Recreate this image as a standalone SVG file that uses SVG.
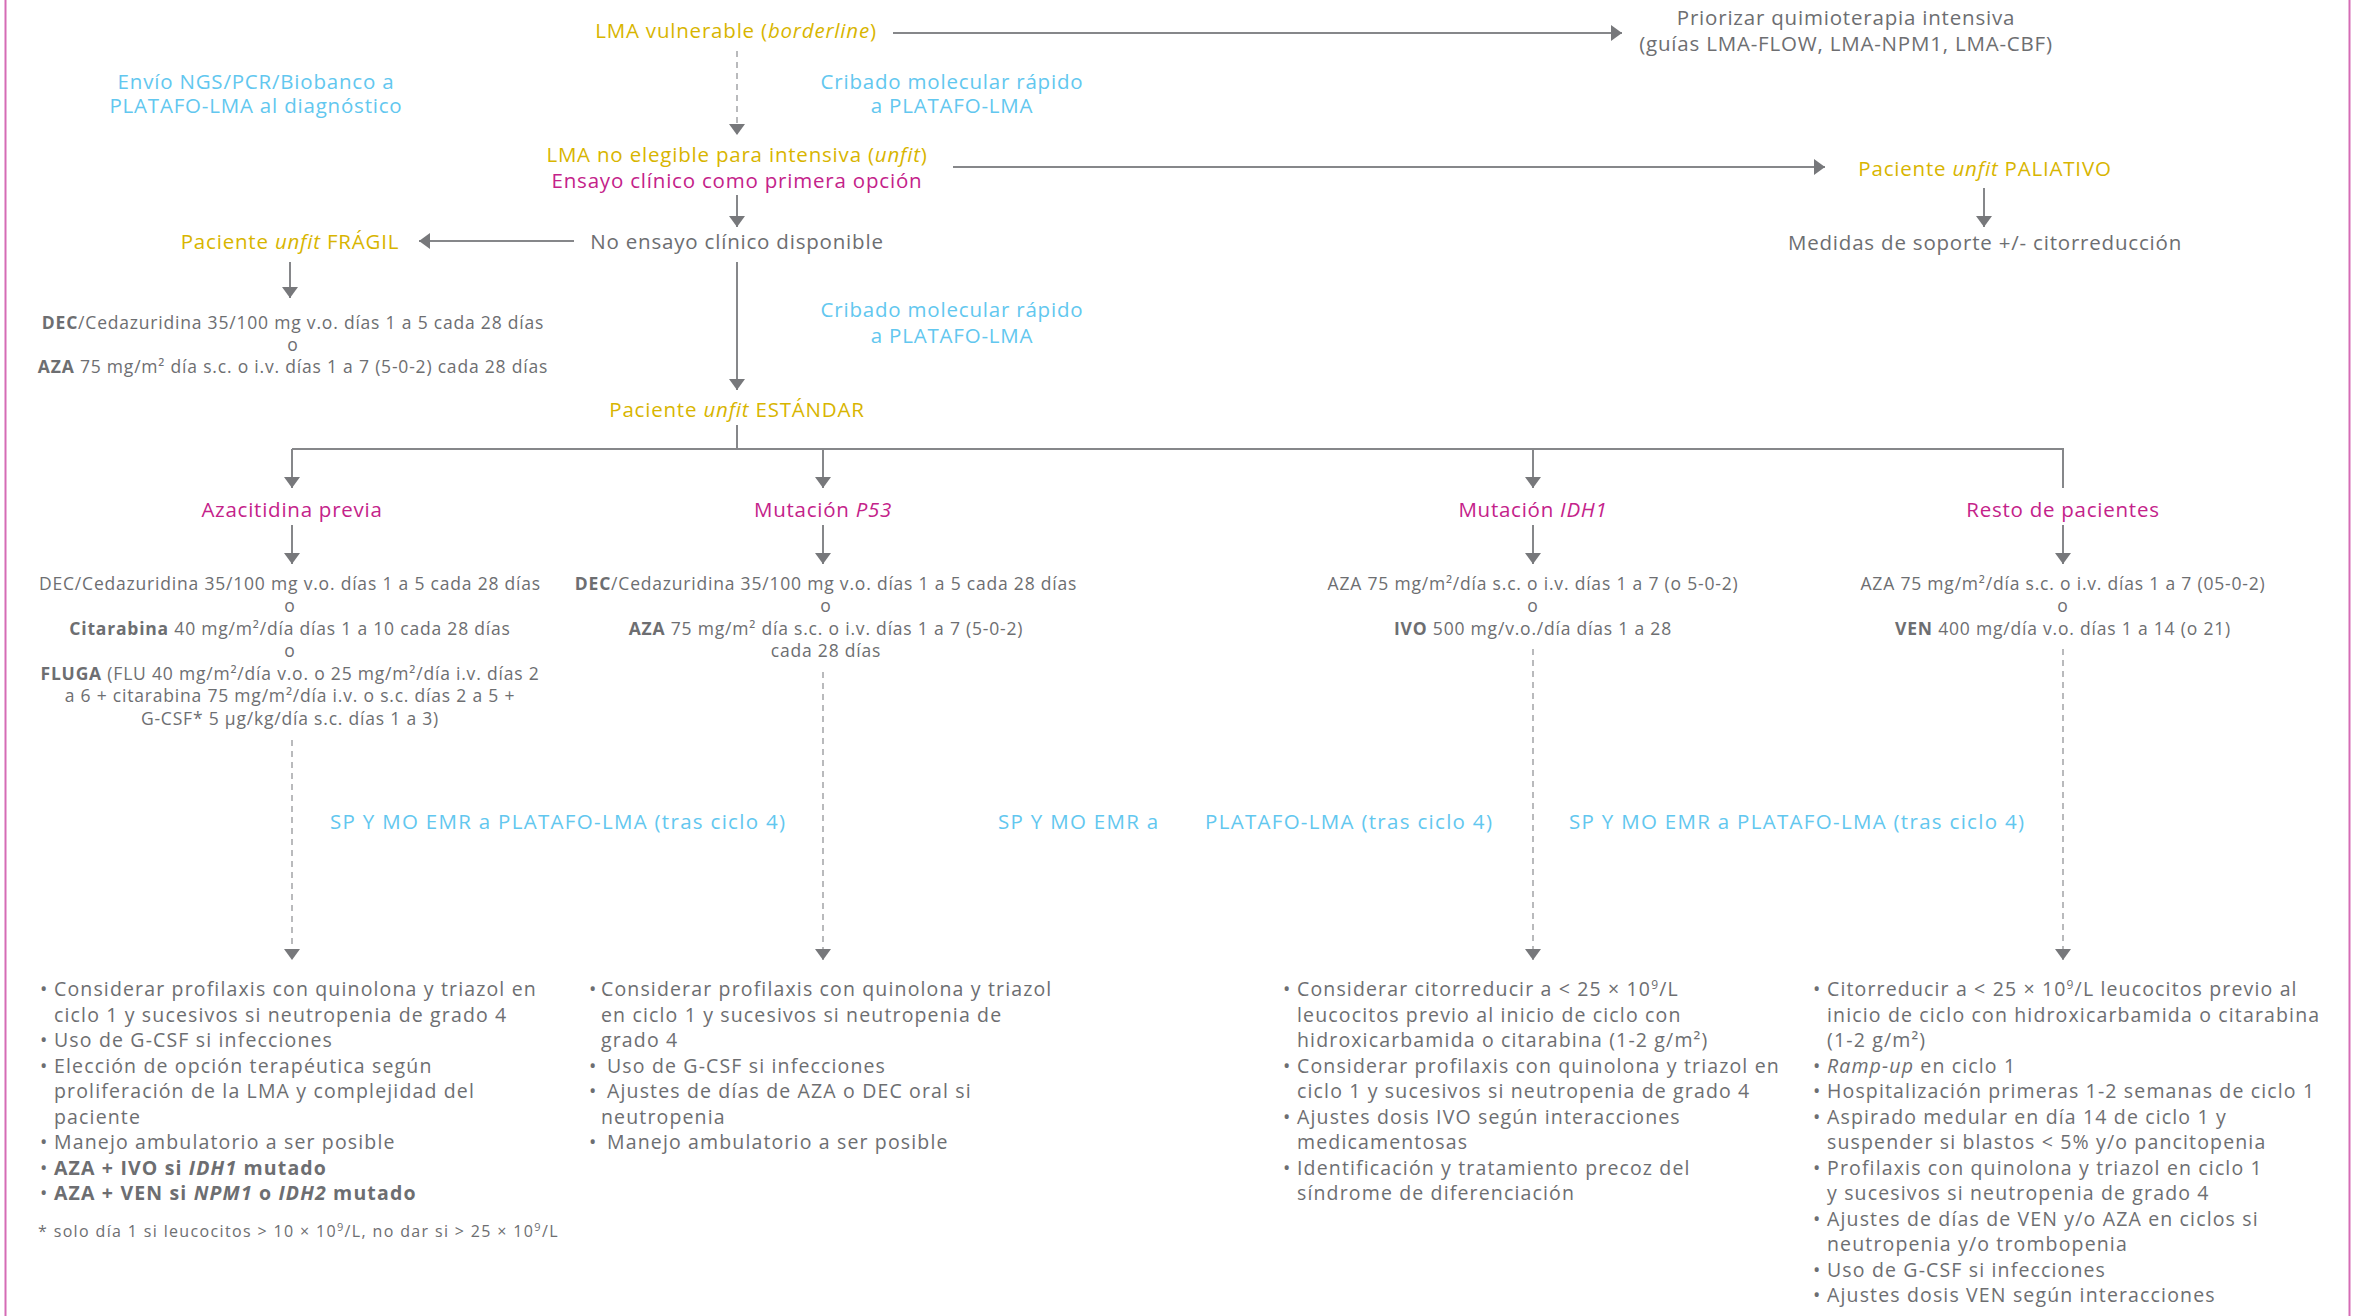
<svg xmlns="http://www.w3.org/2000/svg" width="2354" height="1316" viewBox="0 0 2354 1316">
<defs>
<marker id="ah" viewBox="0 0 11 16" refX="11" refY="8" markerWidth="11" markerHeight="16" markerUnits="userSpaceOnUse" orient="auto"><path d="M0,0 L11,8 L0,16 Z" fill="#77787b"/></marker>
<style>
text{font-family:"Open Sans","Liberation Sans",sans-serif;font-weight:500}
.c{text-anchor:middle}
.l{font-size:20.5px;letter-spacing:0.8px}
.e{letter-spacing:1.3px}
.cat{font-size:20.5px;letter-spacing:0.75px}
.d{font-size:17.5px;letter-spacing:0.8px;fill:#6d6e71}
.u{font-size:19.5px;letter-spacing:1.15px;fill:#6d6e71}
.fn{font-size:16px;letter-spacing:1.35px;fill:#6d6e71}
.y{fill:#d8b500}
.m{fill:#c4228a}
.b{fill:#62c7ef}
.g{fill:#6d6e71}
.i{font-style:italic}
.bo{font-weight:700}
.ln{stroke:#86878a;stroke-width:2;fill:none}
.ds{stroke:#9c9da0;stroke-width:1.4;stroke-dasharray:6 5;fill:none}
.bd{stroke:#d56cb5;stroke-width:2}
</style>
</defs>
<rect width="2354" height="1316" fill="#ffffff"/>
<line class="bd" x1="5.5" y1="0" x2="5.5" y2="1316"/>
<line class="bd" x1="2349.5" y1="0" x2="2349.5" y2="1316"/>

<g id="connectors">
<line class="ln" x1="893" y1="33" x2="1622" y2="33" marker-end="url(#ah)"/>
<line class="ds" x1="737" y1="51" x2="737" y2="135" marker-end="url(#ah)"/>
<line class="ln" x1="953" y1="167" x2="1825" y2="167" marker-end="url(#ah)"/>
<line class="ln" x1="1984" y1="188" x2="1984" y2="227" marker-end="url(#ah)"/>
<line class="ln" x1="737" y1="195" x2="737" y2="227" marker-end="url(#ah)"/>
<line class="ln" x1="574" y1="241" x2="419" y2="241" marker-end="url(#ah)"/>
<line class="ln" x1="290" y1="262" x2="290" y2="298" marker-end="url(#ah)"/>
<line class="ln" x1="737" y1="262" x2="737" y2="390" marker-end="url(#ah)"/>
<line class="ln" x1="737" y1="425" x2="737" y2="449"/>
<path class="ln" d="M292,449 H2063 V488"/>
<line class="ln" x1="292" y1="449" x2="292" y2="488" marker-end="url(#ah)"/>
<line class="ln" x1="823" y1="449" x2="823" y2="488" marker-end="url(#ah)"/>
<line class="ln" x1="1533" y1="449" x2="1533" y2="488" marker-end="url(#ah)"/>
<line class="ln" x1="292" y1="525" x2="292" y2="564" marker-end="url(#ah)"/>
<line class="ln" x1="823" y1="525" x2="823" y2="564" marker-end="url(#ah)"/>
<line class="ln" x1="1533" y1="525" x2="1533" y2="564" marker-end="url(#ah)"/>
<line class="ln" x1="2063" y1="525" x2="2063" y2="564" marker-end="url(#ah)"/>
<line class="ds" x1="292" y1="740" x2="292" y2="960" marker-end="url(#ah)"/>
<line class="ds" x1="823" y1="672" x2="823" y2="960" marker-end="url(#ah)"/>
<line class="ds" x1="1533" y1="649" x2="1533" y2="960" marker-end="url(#ah)"/>
<line class="ds" x1="2063" y1="649" x2="2063" y2="960" marker-end="url(#ah)"/>
</g>

<g id="n-vulnerable"><text class="l y c" x="736" y="38">LMA vulnerable (<tspan class="i">borderline</tspan>)</text></g>
<g id="n-priorizar"><text class="l g c" x="1846" y="25">Priorizar quimioterapia intensiva</text><text class="l g c" x="1846" y="51">(guías LMA-FLOW, LMA-NPM1, LMA-CBF)</text></g>
<g id="n-envio"><text class="l b c" x="256" y="89">Envío NGS/PCR/Biobanco a</text><text class="l b c" x="256" y="113">PLATAFO-LMA al diagnóstico</text></g>
<g id="n-cribado1"><text class="l b c" x="952" y="89">Cribado molecular rápido</text><text class="l b c" x="952" y="113">a PLATAFO-LMA</text></g>
<g id="n-unfit"><text class="l y c" x="737" y="162">LMA no elegible para intensiva (<tspan class="i">unfit</tspan>)</text><text class="l m c" x="737" y="188">Ensayo clínico como primera opción</text></g>
<g id="n-paliativo"><text class="l y c" x="1985" y="176">Paciente <tspan class="i">unfit</tspan> PALIATIVO</text></g>
<g id="n-medidas"><text class="l g c" x="1985" y="250">Medidas de soporte +/- citorreducción</text></g>
<g id="n-noensayo"><text class="l g c" x="737" y="249">No ensayo clínico disponible</text></g>
<g id="n-fragil"><text class="l y c" x="290" y="249">Paciente <tspan class="i">unfit</tspan> FRÁGIL</text></g>
<g id="n-fragil-tx">
<text class="d c" x="293" y="329"><tspan class="bo">DEC</tspan>/Cedazuridina 35/100 mg v.o. días 1 a 5 cada 28 días</text>
<text class="d c" x="293" y="351">o</text>
<text class="d c" x="293" y="373"><tspan class="bo">AZA</tspan> 75 mg/m² día s.c. o i.v. días 1 a 7 (5-0-2) cada 28 días</text>
</g>
<g id="n-cribado2"><text class="l b c" x="952" y="317">Cribado molecular rápido</text><text class="l b c" x="952" y="343">a PLATAFO-LMA</text></g>
<g id="n-estandar"><text class="l y c" x="737" y="417">Paciente <tspan class="i">unfit</tspan> ESTÁNDAR</text></g>

<g id="n-aza-previa">
<text class="cat m c" x="292" y="517">Azacitidina previa</text>
<text class="d c" x="290" y="590">DEC/Cedazuridina 35/100 mg v.o. días 1 a 5 cada 28 días</text>
<text class="d c" x="290" y="612">o</text>
<text class="d c" x="290" y="635"><tspan class="bo">Citarabina</tspan> 40 mg/m²/día días 1 a 10 cada 28 días</text>
<text class="d c" x="290" y="657">o</text>
<text class="d c" x="290" y="680"><tspan class="bo">FLUGA</tspan> (FLU 40 mg/m²/día v.o. o 25 mg/m²/día i.v. días 2</text>
<text class="d c" x="290" y="702">a 6 + citarabina 75 mg/m²/día i.v. o s.c. días 2 a 5 +</text>
<text class="d c" x="290" y="725">G-CSF* 5 µg/kg/día s.c. días 1 a 3)</text>
</g>
<g id="n-p53">
<text class="cat m c" x="823" y="517">Mutación <tspan class="i">P53</tspan></text>
<text class="d c" x="826" y="590"><tspan class="bo">DEC</tspan>/Cedazuridina 35/100 mg v.o. días 1 a 5 cada 28 días</text>
<text class="d c" x="826" y="612">o</text>
<text class="d c" x="826" y="635"><tspan class="bo">AZA</tspan> 75 mg/m² día s.c. o i.v. días 1 a 7 (5-0-2)</text>
<text class="d c" x="826" y="657">cada 28 días</text>
</g>
<g id="n-idh1">
<text class="cat m c" x="1533" y="517">Mutación <tspan class="i">IDH1</tspan></text>
<text class="d c" x="1533" y="590">AZA 75 mg/m²/día s.c. o i.v. días 1 a 7 (o 5-0-2)</text>
<text class="d c" x="1533" y="612">o</text>
<text class="d c" x="1533" y="635"><tspan class="bo">IVO</tspan> 500 mg/v.o./día días 1 a 28</text>
</g>
<g id="n-resto">
<text class="cat m c" x="2063" y="517">Resto de pacientes</text>
<text class="d c" x="2063" y="590">AZA 75 mg/m²/día s.c. o i.v. días 1 a 7 (05-0-2)</text>
<text class="d c" x="2063" y="612">o</text>
<text class="d c" x="2063" y="635"><tspan class="bo">VEN</tspan> 400 mg/día v.o. días 1 a 14 (o 21)</text>
</g>

<g id="n-emr">
<text class="l b e" x="330" y="829">SP Y MO EMR a PLATAFO-LMA (tras ciclo 4)</text>
<text class="l b e" x="998" y="829">SP Y MO EMR a</text>
<text class="l b e" x="1205" y="829">PLATAFO-LMA (tras ciclo 4)</text>
<text class="l b e" x="1569" y="829">SP Y MO EMR a PLATAFO-LMA (tras ciclo 4)</text>
</g>

<g id="n-bul1">
<text class="u">
<tspan x="40" y="996">•</tspan><tspan x="54" y="996">Considerar profilaxis con quinolona y triazol en</tspan>
<tspan x="54" y="1021.5">ciclo 1 y sucesivos si neutropenia de grado 4</tspan>
<tspan x="40" y="1047">•</tspan><tspan x="54" y="1047">Uso de G-CSF si infecciones</tspan>
<tspan x="40" y="1072.5">•</tspan><tspan x="54" y="1072.5">Elección de opción terapéutica según</tspan>
<tspan x="54" y="1098">proliferación de la LMA y complejidad del</tspan>
<tspan x="54" y="1123.5">paciente</tspan>
<tspan x="40" y="1149">•</tspan><tspan x="54" y="1149">Manejo ambulatorio a ser posible</tspan>
<tspan x="40" y="1174.5">•</tspan><tspan x="54" y="1174.5" class="bo">AZA + IVO si <tspan class="i">IDH1</tspan> mutado</tspan>
<tspan x="40" y="1200">•</tspan><tspan x="54" y="1200" class="bo">AZA + VEN si <tspan class="i">NPM1</tspan> o <tspan class="i">IDH2</tspan> mutado</tspan>
</text>
<text class="fn" x="38" y="1237">* solo día 1 si leucocitos &gt; 10 × 10<tspan dy="-6" font-size="11">9</tspan><tspan dy="6">/L, no dar si &gt; 25 × 10</tspan><tspan dy="-6" font-size="11">9</tspan><tspan dy="6">/L</tspan></text>
</g>

<g id="n-bul2">
<text class="u">
<tspan x="589" y="996">•</tspan><tspan x="601" y="996">Considerar profilaxis con quinolona y triazol</tspan>
<tspan x="601" y="1021.5">en ciclo 1 y sucesivos si neutropenia de</tspan>
<tspan x="601" y="1047">grado 4</tspan>
<tspan x="589" y="1072.5">•</tspan><tspan x="607" y="1072.5">Uso de G-CSF si infecciones</tspan>
<tspan x="589" y="1098">•</tspan><tspan x="607" y="1098">Ajustes de días de AZA o DEC oral si</tspan>
<tspan x="601" y="1123.5">neutropenia</tspan>
<tspan x="589" y="1149">•</tspan><tspan x="607" y="1149">Manejo ambulatorio a ser posible</tspan>
</text>
</g>

<g id="n-bul3">
<text class="u">
<tspan x="1283" y="996">•</tspan><tspan x="1297" y="996">Considerar citorreducir a &lt; 25 × 10</tspan><tspan dy="-7" font-size="12">9</tspan><tspan dy="7">/L</tspan>
<tspan x="1297" y="1021.5">leucocitos previo al inicio de ciclo con</tspan>
<tspan x="1297" y="1047">hidroxicarbamida o citarabina (1-2 g/m²)</tspan>
<tspan x="1283" y="1072.5">•</tspan><tspan x="1297" y="1072.5">Considerar profilaxis con quinolona y triazol en</tspan>
<tspan x="1297" y="1098">ciclo 1 y sucesivos si neutropenia de grado 4</tspan>
<tspan x="1283" y="1123.5">•</tspan><tspan x="1297" y="1123.5">Ajustes dosis IVO según interacciones</tspan>
<tspan x="1297" y="1149">medicamentosas</tspan>
<tspan x="1283" y="1174.5">•</tspan><tspan x="1297" y="1174.5">Identificación y tratamiento precoz del</tspan>
<tspan x="1297" y="1200">síndrome de diferenciación</tspan>
</text>
</g>

<g id="n-bul4">
<text class="u">
<tspan x="1813" y="996">•</tspan><tspan x="1827" y="996">Citorreducir a &lt; 25 × 10</tspan><tspan dy="-7" font-size="12">9</tspan><tspan dy="7">/L leucocitos previo al</tspan>
<tspan x="1827" y="1021.5">inicio de ciclo con hidroxicarbamida o citarabina</tspan>
<tspan x="1827" y="1047">(1-2 g/m²)</tspan>
<tspan x="1813" y="1072.5">•</tspan><tspan x="1827" y="1072.5"><tspan class="i">Ramp-up</tspan> en ciclo 1</tspan>
<tspan x="1813" y="1098">•</tspan><tspan x="1827" y="1098">Hospitalización primeras 1-2 semanas de ciclo 1</tspan>
<tspan x="1813" y="1123.5">•</tspan><tspan x="1827" y="1123.5">Aspirado medular en día 14 de ciclo 1 y</tspan>
<tspan x="1827" y="1149">suspender si blastos &lt; 5% y/o pancitopenia</tspan>
<tspan x="1813" y="1174.5">•</tspan><tspan x="1827" y="1174.5">Profilaxis con quinolona y triazol en ciclo 1</tspan>
<tspan x="1827" y="1200">y sucesivos si neutropenia de grado 4</tspan>
<tspan x="1813" y="1225.5">•</tspan><tspan x="1827" y="1225.5">Ajustes de días de VEN y/o AZA en ciclos si</tspan>
<tspan x="1827" y="1251">neutropenia y/o trombopenia</tspan>
<tspan x="1813" y="1276.5">•</tspan><tspan x="1827" y="1276.5">Uso de G-CSF si infecciones</tspan>
<tspan x="1813" y="1302">•</tspan><tspan x="1827" y="1302">Ajustes dosis VEN según interacciones</tspan>
</text>
</g>
</svg>
